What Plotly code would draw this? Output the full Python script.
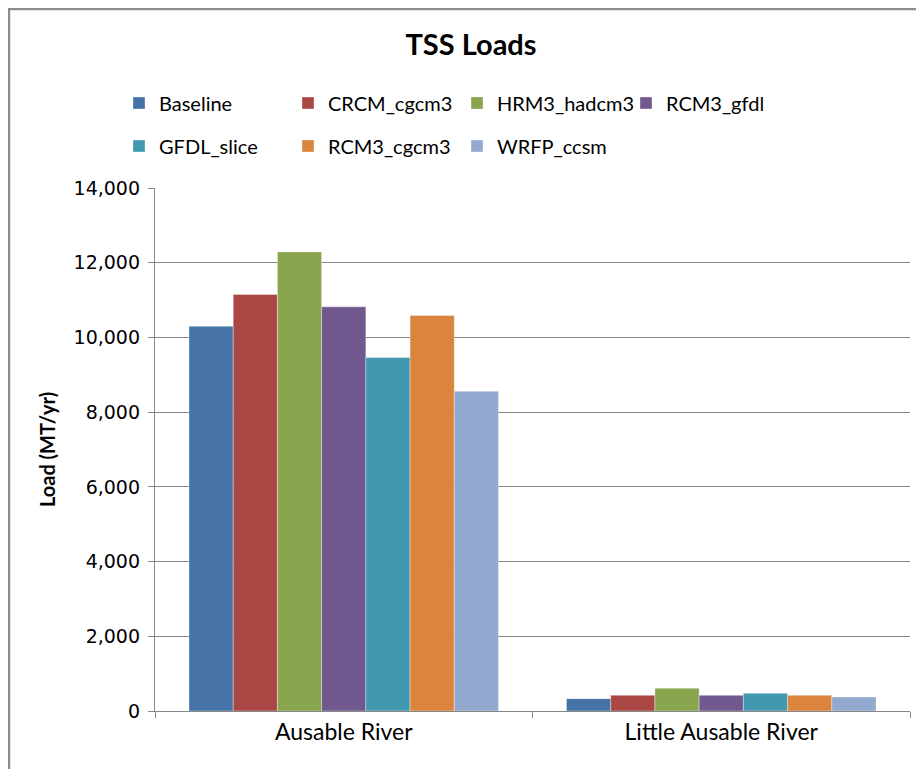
import plotly.graph_objects as go

categories = ["Ausable River", "Little Ausable River"]
series_names = ["Baseline", "CRCM_cgcm3", "HRM3_hadcm3", "RCM3_gfdl",
                "GFDL_slice", "RCM3_cgcm3", "WRFP_ccsm"]
baseline = [10300, 330]
crcm_cgcm3 = [11150, 420]
hrm3_hadcm3 = [12290, 610]
rcm3_gfdl = [10820, 420]
gfdl_slice = [9460, 475]
rcm3_cgcm3 = [10590, 420]
wrfp_ccsm = [8560, 375]
values = [baseline, crcm_cgcm3, hrm3_hadcm3, rcm3_gfdl, gfdl_slice, rcm3_cgcm3, wrfp_ccsm]
colors = ["#4572A7", "#AA4643", "#89A54E", "#71588F", "#4198AF", "#DB843D", "#93A9CF"]
y_ticks = [0, 2000, 4000, 6000, 8000, 10000, 12000, 14000]

# page body has an 8px offset, so the figure is 8px smaller and shifted
OFF = 8
W, H = 924 - OFF, 769 - OFF
ml, mr, mt, mb = 155 - OFF, 14, 188 - OFF, 58
pw = W - ml - mr
ph = H - mt - mb


def px_x(x):
    return (x - OFF - ml) / pw


def px_y(y):
    return 1 - (y - OFF - mt) / ph


fig = go.Figure()
for i, (name, vals, col) in enumerate(zip(series_names, values, colors)):
    fig.add_trace(go.Bar(
        x=categories, y=vals, name=name,
        marker=dict(color=col, line=dict(color="rgba(255,255,255,0.6)", width=0.6)),
        legend="legend" if i < 4 else "legend2",
    ))

legend_font = dict(family="Lato, Open Sans, sans-serif", size=20, color="#000000")
fig.update_layout(
    width=W, height=H,
    margin=dict(l=ml, r=mr, t=mt, b=mb, autoexpand=False),
    paper_bgcolor="white", plot_bgcolor="white",
    barmode="group", bargap=0.18, bargroupgap=0,
    title=dict(text="<b>TSS Loads</b>", xref="container", x=(471 - OFF) / W, xanchor="center",
               yref="container", y=1 - (45 - OFF) / H, yanchor="middle",
               font=dict(family="Lato, Open Sans, sans-serif", size=29, color="#000000")),
    legend=dict(orientation="h", x=px_x(119), xanchor="left",
                y=px_y(103), yanchor="middle",
                entrywidth=124, entrywidthmode="pixels",
                font=legend_font, bgcolor="rgba(0,0,0,0)", itemclick=False),
    legend2=dict(orientation="h", x=px_x(119), xanchor="left",
                 y=px_y(146), yanchor="middle",
                 entrywidth=124, entrywidthmode="pixels",
                 font=legend_font, bgcolor="rgba(0,0,0,0)", itemclick=False),
    xaxis=dict(showline=True, linecolor="#868686", linewidth=1.3,
               ticks="outside", tickson="boundaries", ticklen=6, tickcolor="#868686",
               tickfont=dict(family="Lato, Open Sans, sans-serif", size=23, color="#000000"),
               showgrid=False),
    yaxis=dict(range=[0, 14000], tickvals=y_ticks, tickformat=",",
               showline=True, linecolor="#868686", linewidth=1.3,
               ticks="outside", ticklen=6, tickcolor="#868686",
               ticklabelstandoff=4,
               showgrid=True, gridcolor="#868686", gridwidth=1.3,
               zeroline=False, automargin=False,
               tickfont=dict(family="DejaVu Sans, Verdana, sans-serif", size=19, color="#000000"),
               title=dict(text="<b>Load (MT/yr)</b>", standoff=12,
                          font=dict(family="Lato, Open Sans, sans-serif", size=20, color="#000000"))),
    showlegend=True,
)

fig.add_shape(type="rect", xref="paper", yref="paper",
              x0=(1 - ml) / pw, x1=(W + 20 - ml) / pw,
              y0=-(mb + 20) / ph, y1=1 + (mt - 1) / ph,
              line=dict(color="#8C8C8C", width=2.5), fillcolor="rgba(0,0,0,0)", layer="below")

fig.write_html("out.html")
